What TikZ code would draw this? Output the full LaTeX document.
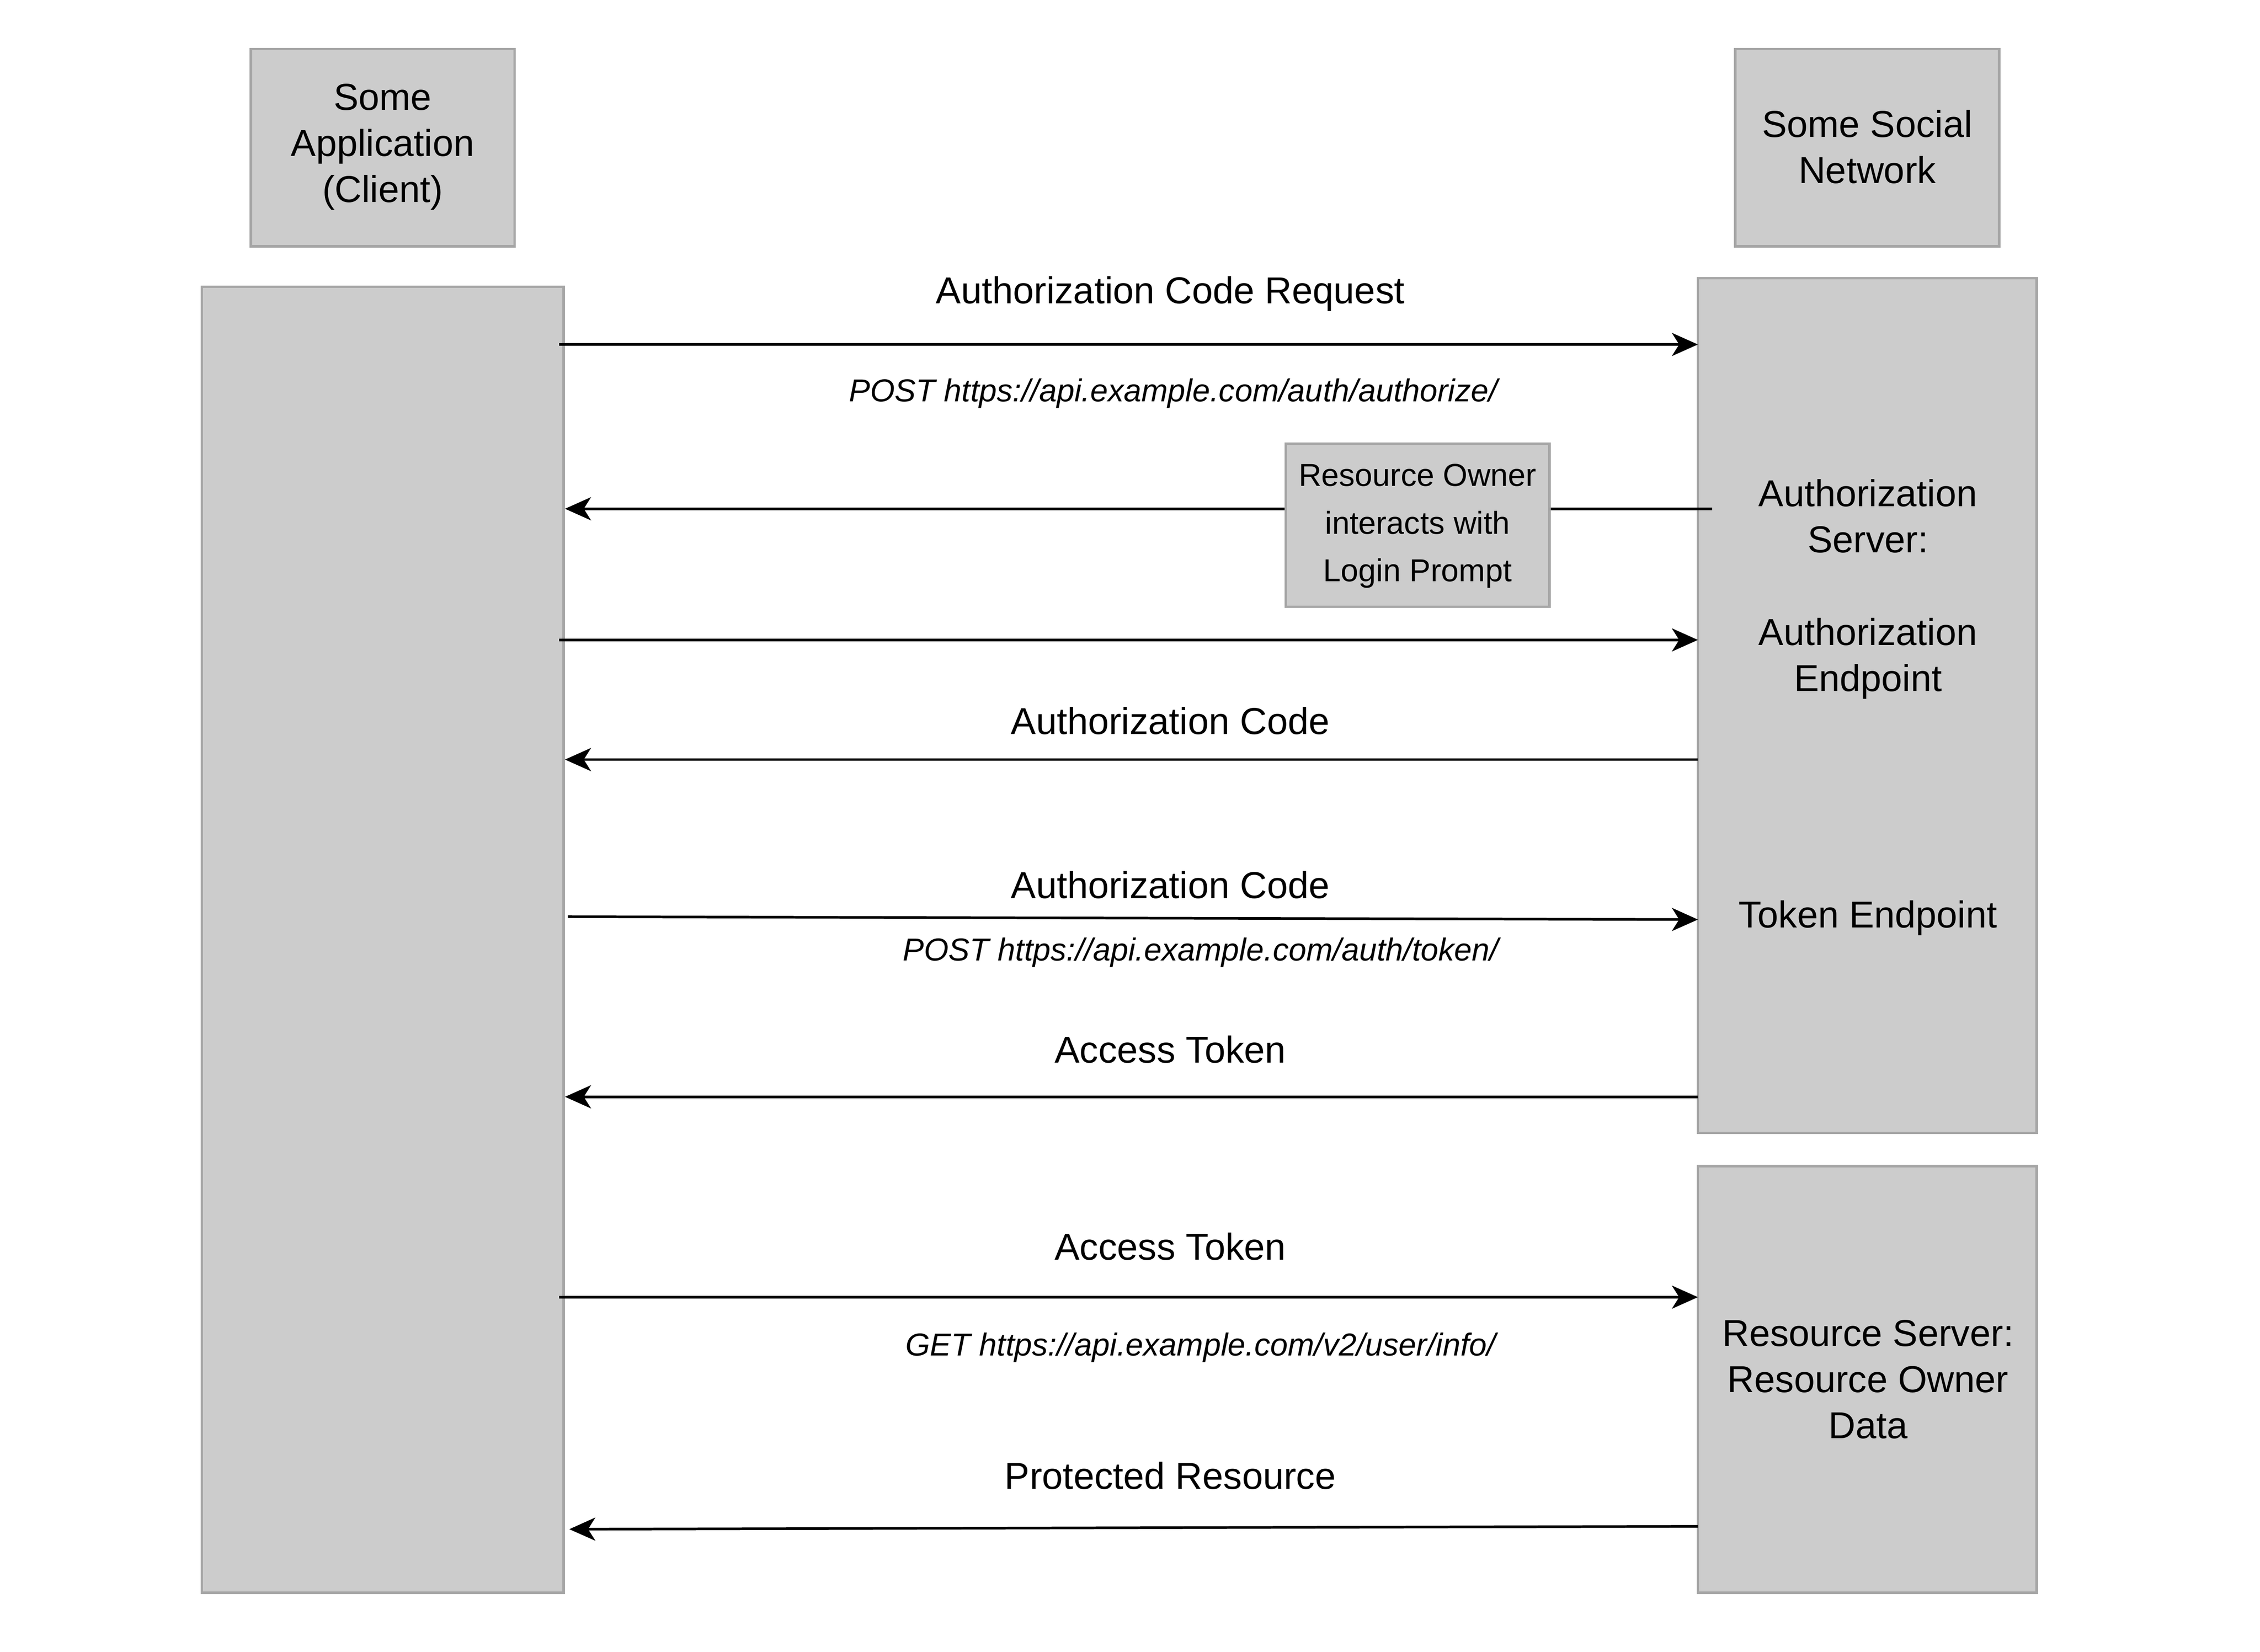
\documentclass[tikz,border=0pt]{standalone}
\usepackage{fontspec}
\setmainfont{Liberation Sans}
\usetikzlibrary{arrows.meta}
\begin{document}
\begin{tikzpicture}[x=0.5pt,y=-0.5pt,
  box/.style={draw=black!35,fill=black!20!blue!2!gray!40,line width=0.9pt},
  lbl/.style={font=\fontsize{13}{16}\selectfont,align=center},
  url/.style={font=\fontsize{11}{13}\selectfont\itshape},
  msg/.style={line width=0.9pt,-{Stealth[length=9pt,width=8pt,inset=2.5pt]}}]
\useasboundingbox (0,0) rectangle (1568,1146);
\colorlet{boxfill}{white!80!black}
\tikzset{box/.style={draw=black!35,fill=boxfill,line width=0.9pt}}
% boxes
\draw[box] (174,34) rectangle (357,171);
\node[lbl] (client) at (265.5,102) {Some\\Application\\(Client)};
\draw[box] (1204,34) rectangle (1387,171);
\node[lbl] (ssn) at (1295.5,102) {Some Social\\Network};
\draw[box] (140,199) rectangle (391,1105);
\draw[box] (1178,193) rectangle (1413,786);
\draw[box] (1178,809) rectangle (1413,1105);
\node[lbl] (as) at (1296,358) {Authorization\\Server:};
\node[lbl] (ae) at (1296,457) {Authorization\\Endpoint};
\node[lbl] (te) at (1296,637) {Token Endpoint};
\node[lbl] (rs) at (1296,957) {Resource Server:\\Resource Owner\\Data};
% coordinates
\coordinate (a1) at (388,239); \coordinate (b1) at (1178,239);
\coordinate (a2) at (392,353); \coordinate (b2) at (1188,353);
\coordinate (a3) at (388,444); \coordinate (b3) at (1178,444);
\coordinate (a4) at (392,527); \coordinate (b4) at (1178,527);
\coordinate (a5) at (394,636); \coordinate (b5) at (1178,638);
\coordinate (a6) at (392,761); \coordinate (b6) at (1178,761);
\coordinate (a7) at (388,900); \coordinate (b7) at (1178,900);
\coordinate (a8) at (395,1061); \coordinate (b8) at (1178,1059);
% arrows
\draw[msg] (a1) -- (b1);
\draw[msg] (b2) -- (a2);
\draw[msg] (a3) -- (b3);
\draw[msg] (b4) -- (a4);
\draw[msg] (a5) -- (b5);
\draw[msg] (b6) -- (a6);
\draw[msg] (a7) -- (b7);
\draw[msg] (b8) -- (a8);
% small box
\draw[box] (892,308) rectangle (1075,421);
\node[font=\fontsize{11}{16.5}\selectfont,align=center] (ro) at (983.5,365) {Resource Owner\\interacts with\\Login Prompt};
% labels
\node[lbl] (l1) at (812,204) {Authorization Code Request};
\node[url] (u1) at (814,273) {POST https://api.example.com/auth/authorize/};
\node[lbl] (l4) at (812,500) {Authorization Code};
\node[lbl] (l5) at (812,614) {Authorization Code};
\node[url] (u5) at (833,661) {POST https://api.example.com/auth/token/};
\node[lbl] (l6) at (812,728) {Access Token};
\node[lbl] (l7) at (812,865) {Access Token};
\node[url] (u7) at (833,935) {GET https://api.example.com/v2/user/info/};
\node[lbl] (l8) at (812,1024) {Protected Resource};
\end{tikzpicture}
\end{document}
